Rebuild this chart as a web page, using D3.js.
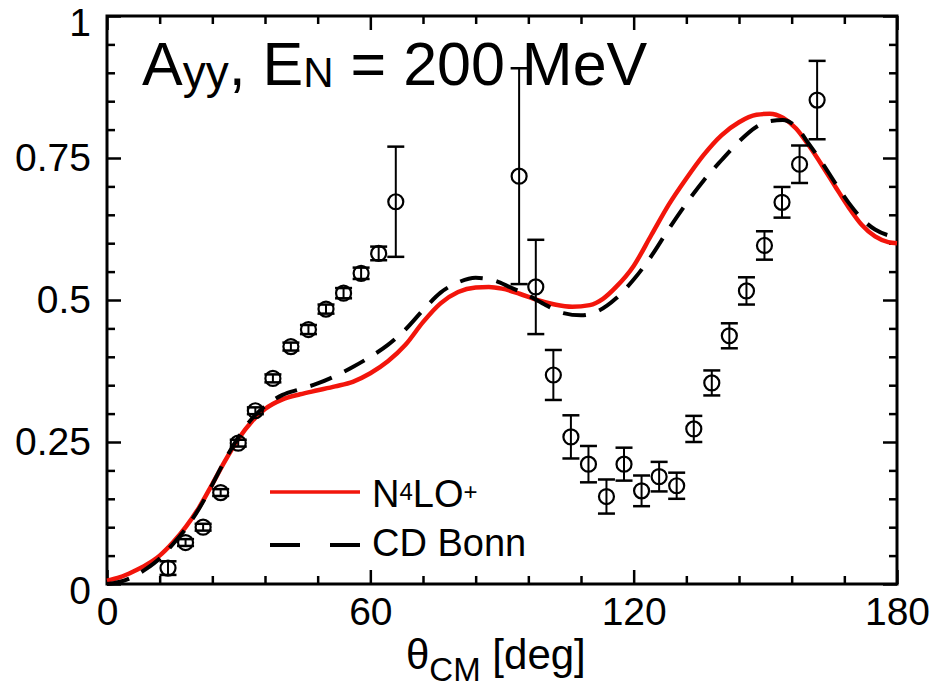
<!DOCTYPE html>
<html><head><meta charset="utf-8">
<script src="https://cdn.jsdelivr.net/npm/d3@7"></script>
<style>
body{margin:0;background:#fff;}
svg{display:block;}
text{font-family:"Liberation Sans",Arial,Helvetica,sans-serif;fill:#000;}
</style>
</head><body>
<svg id="chart" width="935" height="690"></svg>
<script>
// ---- data ----
const dataAngle = [13.9, 17.9, 21.9, 25.9, 29.9, 33.8, 37.8, 41.9, 45.9, 49.9, 53.9, 57.9, 61.9, 65.8,
  93.9, 97.7, 101.7, 105.7, 109.7, 113.8, 117.8, 121.8, 125.8, 129.8, 133.7, 137.8, 141.8, 145.7, 149.8, 153.8, 157.8, 161.8];
const dataAyy = [0.028, 0.073, 0.100, 0.161, 0.248, 0.305, 0.362, 0.418, 0.448, 0.484, 0.512, 0.547, 0.582, 0.673,
  0.718, 0.523, 0.368, 0.259, 0.211, 0.154, 0.211, 0.164, 0.189, 0.173, 0.273, 0.354, 0.437, 0.516, 0.596, 0.672, 0.739, 0.852];
const dataErr = [0.012, 0.006, 0.006, 0.006, 0.006, 0.006, 0.007, 0.007, 0.008, 0.008, 0.009, 0.010, 0.012, 0.097,
  0.190, 0.083, 0.044, 0.038, 0.032, 0.030, 0.029, 0.027, 0.026, 0.023, 0.023, 0.022, 0.022, 0.024, 0.025, 0.027, 0.033, 0.069];

const n4loAngle = [0,3,6,9,12,15,18,21,24,27,30,33,36,40,44,48,52,56,60,64,68,72,76,80,84,87,90,94,98,102,106,110,113,116,120,124,128,132,136,140,144,148,151,154,157,160,163,166,169,172,175,178,180];
const n4loAyy = [0.006,0.012,0.022,0.034,0.050,0.073,0.101,0.135,0.176,0.218,0.256,0.286,0.308,0.325,0.334,0.341,0.348,0.356,0.371,0.392,0.421,0.461,0.494,0.514,0.522,0.523,0.520,0.511,0.500,0.492,0.488,0.491,0.502,0.523,0.560,0.614,0.668,0.714,0.756,0.790,0.813,0.826,0.828,0.821,0.802,0.771,0.736,0.699,0.663,0.632,0.612,0.602,0.600];

const bonnAngle = [0,3,6,9,12,15,18,21,24,27,30,33,36,40,44,48,52,56,60,64,68,72,76,80,84,88,92,96,100,104,108,112,116,120,124,128,132,136,140,144,148,151,154,157,160,163,166,169,172,175,178,180];
const bonnAyy = [0.000,0.004,0.013,0.027,0.045,0.070,0.098,0.133,0.175,0.220,0.259,0.291,0.313,0.333,0.343,0.353,0.366,0.382,0.400,0.421,0.448,0.482,0.513,0.531,0.539,0.535,0.522,0.508,0.491,0.477,0.473,0.481,0.503,0.536,0.577,0.625,0.670,0.711,0.746,0.779,0.805,0.815,0.817,0.805,0.774,0.741,0.705,0.671,0.643,0.624,0.614,0.611];

const xMajorTicks = [0, 60, 120, 180];
const xTickLabels = ["0", "60", "120", "180"];
const yMajorTicks = [0, 0.25, 0.5, 0.75, 1];
const yTickLabels = ["0", "0.25", "0.5", "0.75", "1"];
const legendLabels = ["N4LO+", "CD Bonn"];

// ---- drawing ----
const RED = "#f2150b";
const svg = d3.select("#chart");
const x = d3.scaleLinear().domain([0, 180]).range([107, 897]);
const y = d3.scaleLinear().domain([0, 1]).range([584, 16]);
const xMinor = d3.range(0, 181, 12).filter(v => !xMajorTicks.includes(v));
const yMinor = d3.range(0, 1.0001, 0.05).map(v => +v.toFixed(2)).filter(v => !yMajorTicks.includes(v));

function styleAxis(g) {
  g.select(".domain").remove();
  g.selectAll(".tick line").attr("stroke", "#000").attr("stroke-width", 2.5);
}
// bottom
svg.append("g").attr("transform", "translate(0,584)")
  .call(d3.axisBottom(x).tickValues(xMinor).tickSize(-8).tickFormat("")).call(styleAxis);
const gxb = svg.append("g").attr("transform", "translate(0,584)")
  .call(d3.axisBottom(x).tickValues(xMajorTicks).tickSize(-14).tickPadding(13)
    .tickFormat((d, i) => xTickLabels[i])).call(styleAxis);
gxb.selectAll("text").attr("font-size", 39).attr("font-family", '"Liberation Sans",Arial,sans-serif').attr("fill", "#000");
// top
svg.append("g").attr("transform", "translate(0,16)")
  .call(d3.axisTop(x).tickValues(xMinor).tickSize(-8).tickFormat("")).call(styleAxis);
svg.append("g").attr("transform", "translate(0,16)")
  .call(d3.axisTop(x).tickValues(xMajorTicks).tickSize(-14).tickFormat("")).call(styleAxis);
// left
svg.append("g").attr("transform", "translate(107,0)")
  .call(d3.axisLeft(y).tickValues(yMinor).tickSize(-8).tickFormat("")).call(styleAxis);
const gyl = svg.append("g").attr("transform", "translate(107,0)")
  .call(d3.axisLeft(y).tickValues(yMajorTicks).tickSize(-14).tickPadding(16)
    .tickFormat((d, i) => yTickLabels[i])).call(styleAxis);
gyl.selectAll("text").attr("font-size", 39).attr("font-family", '"Liberation Sans",Arial,sans-serif').attr("fill", "#000")
  .attr("dy", d => (d === 1 || d === 0) ? "0.5em" : "0.32em");
// right
svg.append("g").attr("transform", "translate(897,0)")
  .call(d3.axisRight(y).tickValues(yMinor).tickSize(-8).tickFormat("")).call(styleAxis);
svg.append("g").attr("transform", "translate(897,0)")
  .call(d3.axisRight(y).tickValues(yMajorTicks).tickSize(-14).tickFormat("")).call(styleAxis);

// frame
svg.append("rect").attr("x", x(0)).attr("y", y(1)).attr("width", x(180) - x(0)).attr("height", y(0) - y(1))
  .attr("fill", "none").attr("stroke", "#000").attr("stroke-width", 3);

// curves
const line = d3.line().x(d => x(d[0])).y(d => y(d[1])).curve(d3.curveMonotoneX);
svg.append("path").datum(n4loAngle.map((a, i) => [a, n4loAyy[i]]))
  .attr("d", line).attr("fill", "none").attr("stroke", RED).attr("stroke-width", 4.5);
svg.append("path").datum(bonnAngle.map((a, i) => [a, bonnAyy[i]]))
  .attr("d", line).attr("fill", "none").attr("stroke", "#000").attr("stroke-width", 4)
  .attr("stroke-dasharray", "23,14");

// data points
const pts = dataAngle.map((a, i) => ({a, v: dataAyy[i], e: dataErr[i]}));
const gp = svg.append("g").attr("stroke", "#000").attr("fill", "none");
pts.forEach(p => {
  const cx = x(p.a), top = y(p.v + p.e), bot = y(p.v - p.e);
  gp.append("line").attr("x1", cx).attr("x2", cx).attr("y1", top).attr("y2", bot).attr("stroke-width", 2);
  gp.append("line").attr("x1", cx - 8.5).attr("x2", cx + 8.5).attr("y1", top).attr("y2", top).attr("stroke-width", 2.5);
  gp.append("line").attr("x1", cx - 8.5).attr("x2", cx + 8.5).attr("y1", bot).attr("y2", bot).attr("stroke-width", 2.5);
  gp.append("circle").attr("cx", cx).attr("cy", y(p.v)).attr("r", 7.5).attr("stroke-width", 2.2);
});

// title
const title = svg.append("text").attr("x", 142).attr("y", 85).attr("font-size", 61);
title.append("tspan").text("A");
title.append("tspan").attr("font-size", 46).attr("dy", 3).text("yy");
title.append("tspan").attr("dy", -3).text(", E");
title.append("tspan").attr("font-size", 42).attr("dy", 2).text("N");
title.append("tspan").attr("dy", -2).text(" = 200 MeV");

// x axis title
const xt = svg.append("text").attr("x", 406).attr("y", 669).attr("font-size", 42);
xt.append("tspan").text("θ");
xt.append("tspan").attr("font-size", 33).attr("dy", 12).text("CM");
xt.append("tspan").attr("dy", -12).text(" [deg]");

// legend
svg.append("line").attr("x1", 270).attr("x2", 360).attr("y1", 492).attr("y2", 492)
  .attr("stroke", RED).attr("stroke-width", 3.5);
svg.append("line").attr("x1", 270).attr("x2", 360).attr("y1", 545).attr("y2", 545)
  .attr("stroke", "#000").attr("stroke-width", 4).attr("stroke-dasharray", "30,30");
const l1 = svg.append("text").attr("x", 372).attr("y", 507).attr("font-size", 38);
l1.append("tspan").text(legendLabels[0].charAt(0));
l1.append("tspan").attr("font-size", 24).attr("dy", -7).text(legendLabels[0].charAt(1));
l1.append("tspan").attr("dy", 7).text(legendLabels[0].slice(2, 4));
l1.append("tspan").attr("font-size", 24).attr("dy", -7).text(legendLabels[0].charAt(4));
svg.append("text").attr("x", 372).attr("y", 556).attr("font-size", 38).text(legendLabels[1]);
</script>
</body></html>
